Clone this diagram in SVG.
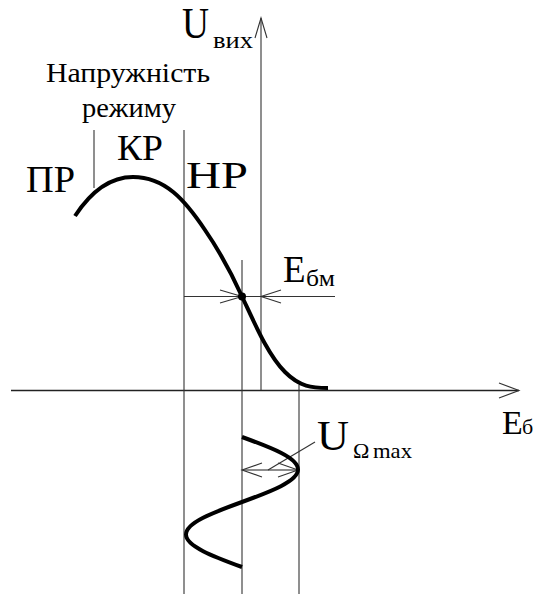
<svg xmlns="http://www.w3.org/2000/svg" width="537" height="594" viewBox="0 0 537 594">
<style>
text{font-family:"Liberation Serif","Times New Roman",serif;fill:#000}
.ax{stroke:#222;stroke-width:1.4;fill:none}
.ln{stroke:#333;stroke-width:1.1;fill:none}
.gl{stroke:#666;stroke-width:1.3;fill:none}
.cv{stroke:#000;stroke-width:4;fill:none;stroke-linecap:butt}
</style>
<rect width="537" height="594" fill="#fff"/>
<g id="connectors">
  <line class="ax" x1="11" y1="390.5" x2="519" y2="390.5"/>
  <polyline class="ln" points="499,383 519,390.5 499,398"/>
  <line class="ln" x1="261" y1="18" x2="261" y2="390"/>
  <polyline class="ln" points="255,38 261,18 267,38"/>
  <line class="ln" x1="94" y1="130" x2="94" y2="188"/>
  <line class="ln" x1="184" y1="130" x2="184" y2="594"/>
  <line class="ln" x1="242" y1="260" x2="242" y2="594"/>
  <line class="ln" x1="299" y1="385" x2="299" y2="594"/>
  <line class="ln" x1="184" y1="296.5" x2="335" y2="296.5"/>
  <polyline class="ln" points="220,290 242,296.5 220,303"/>
  <polyline class="ln" points="281,290 261,296.5 281,303"/>
  <line class="gl" x1="242" y1="470" x2="298" y2="470"/>
  <polyline class="ln" points="262,463 242,470 262,477"/>
  <polyline class="ln" points="278,463 298,470 278,477"/>
  <line class="ln" x1="315" y1="442" x2="268" y2="470"/>
</g>
<g id="curve-upper">
  <path class="cv" d="M75,216 C92,190 112,177 133,177 C165,177 185,200 205,230 C216,246 230,270 242,296.5 C255,324 268,355 285,372 C300,387 312,388 328,388"/>
  <circle cx="242" cy="296.5" r="4" fill="#000"/>
</g>
<g id="curve-lower">
  <path class="cv" d="M242,437 C271,447.6 298,457.8 298,469.5 C298,481.2 271,491.4 242,502 C213,512.6 186,522.8 186,534.5 C186,546.2 213,556.4 242,567"/>
</g>
<g id="label-uvykh">
  <text x="182" y="38" font-size="44" textLength="27" lengthAdjust="spacingAndGlyphs">U</text>
  <text x="213" y="48" font-size="24" textLength="40" lengthAdjust="spacingAndGlyphs">вих</text>
</g>
<g id="label-napruzhnist">
  <text x="46" y="82" font-size="27" textLength="164" lengthAdjust="spacingAndGlyphs">Напружність</text>
  <text x="82" y="117" font-size="27" textLength="94" lengthAdjust="spacingAndGlyphs">режиму</text>
</g>
<g id="label-pr"><text x="26" y="192" font-size="37" textLength="49" lengthAdjust="spacingAndGlyphs">ПР</text></g>
<g id="label-kr"><text x="117" y="160" font-size="36" textLength="46" lengthAdjust="spacingAndGlyphs">КР</text></g>
<g id="label-nr"><text x="186" y="188" font-size="37" textLength="62" lengthAdjust="spacingAndGlyphs">НР</text></g>
<g id="label-ebm">
  <text x="283" y="282" font-size="37">Е</text>
  <text x="306" y="286" font-size="24" textLength="29" lengthAdjust="spacingAndGlyphs">бм</text>
</g>
<g id="label-eb">
  <text x="502" y="434" font-size="34">Е</text>
  <text x="522" y="434" font-size="22">б</text>
</g>
<g id="label-uomega">
  <text x="317" y="450" font-size="42" textLength="32" lengthAdjust="spacingAndGlyphs">U</text>
  <text x="353" y="458" font-size="22">Ω</text>
  <text x="373" y="458" font-size="22" textLength="39" lengthAdjust="spacingAndGlyphs">max</text>
</g>
</svg>
